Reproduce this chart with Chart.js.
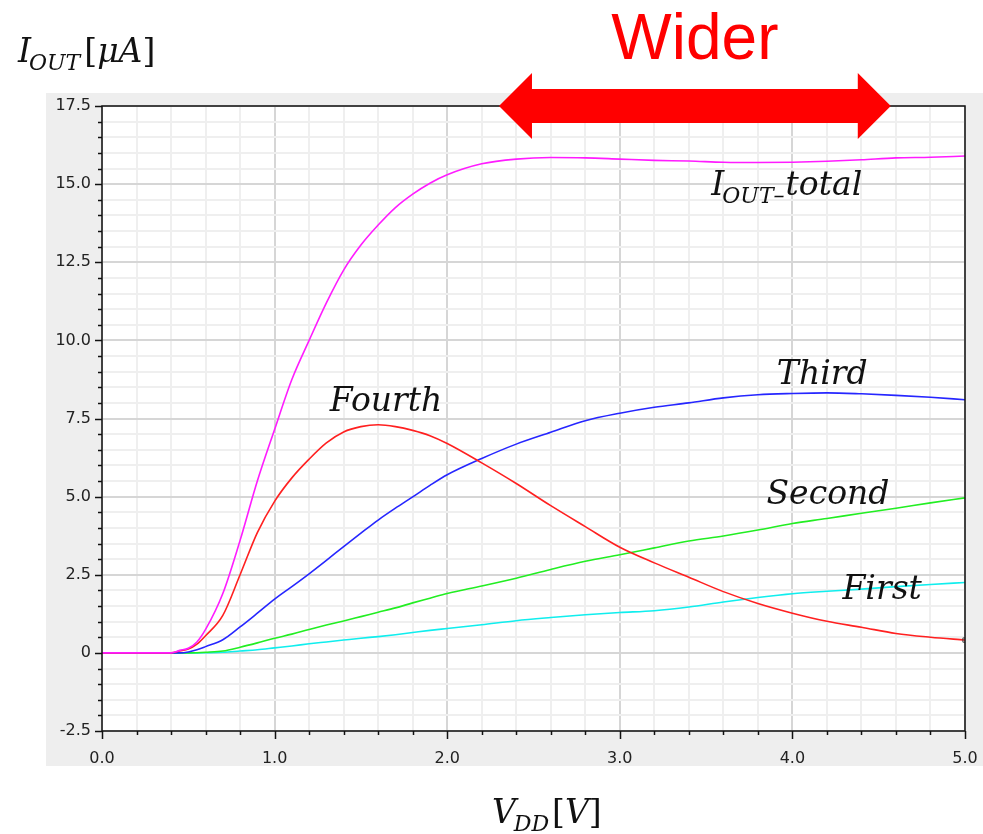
<!DOCTYPE html>
<html>
<head>
<meta charset="utf-8">
<script src="https://cdn.jsdelivr.net/npm/chart.js@4.4.1/dist/chart.umd.min.js"></script>
<style>
  html, body { margin: 0; padding: 0; background: #fff; }
  #wrap { width: 983px; height: 834px; }
</style>
</head>
<body>
<div id="wrap"><canvas id="myChart" width="983" height="834"></canvas></div>
<script>
// supply voltage sweep (V)
var vdd = [0, 0.1, 0.2, 0.3, 0.4, 0.45, 0.5, 0.55,
	0.6, 0.7, 0.8, 0.9, 1.0, 1.1, 1.2, 1.3, 1.4, 1.5, 1.6, 1.7, 1.8, 1.9, 2.0,
	2.2, 2.4, 2.6, 2.8, 3.0, 3.2, 3.4, 3.6, 3.8, 4.0, 4.2, 4.4, 4.6, 4.8, 5.0];

// output currents (uA)
var iTotal = [0, 0, 0, 0, 0, 0.08, 0.15, 0.35,
	0.75, 1.9, 3.6, 5.5, 7.15, 8.75, 10.0, 11.2, 12.25, 13.05, 13.69, 14.25, 14.68, 15.03, 15.3,
	15.65, 15.8, 15.85, 15.84, 15.8, 15.76, 15.74, 15.7, 15.69, 15.7, 15.73, 15.78, 15.84, 15.86, 15.9];
var iFourth = [0, 0, 0, 0, 0, 0.06, 0.12, 0.28,
	0.55, 1.2, 2.5, 3.85, 4.85, 5.6, 6.2, 6.72, 7.07, 7.24, 7.3, 7.24, 7.12, 6.95, 6.7,
	6.08, 5.42, 4.71, 4.04, 3.38, 2.88, 2.42, 1.96, 1.58, 1.27, 1.01, 0.82, 0.62, 0.5, 0.41];
var iThird = [0, 0, 0, 0, 0, 0, 0.03, 0.1,
	0.2, 0.42, 0.83, 1.27, 1.72, 2.12, 2.53, 2.96, 3.4, 3.83, 4.25, 4.63, 4.99, 5.36, 5.7,
	6.22, 6.68, 7.06, 7.43, 7.67, 7.86, 8.0, 8.16, 8.26, 8.3, 8.32, 8.29, 8.24, 8.18, 8.1];
var iSecond = [0, 0, 0, 0, 0, 0, 0, 0.005,
	0.02, 0.06, 0.18, 0.32, 0.47, 0.6, 0.75, 0.89, 1.02, 1.16, 1.3, 1.44, 1.6, 1.75, 1.9,
	2.14, 2.39, 2.67, 2.93, 3.14, 3.36, 3.58, 3.74, 3.93, 4.14, 4.3, 4.47, 4.63, 4.8, 4.96];
var iFirst = [0, 0, 0, 0, 0, 0, 0, 0,
	0.005, 0.02, 0.06, 0.1, 0.16, 0.22, 0.29, 0.35, 0.41, 0.47, 0.52, 0.58, 0.65, 0.72, 0.78,
	0.9, 1.03, 1.13, 1.22, 1.29, 1.35, 1.47, 1.63, 1.77, 1.89, 1.97, 2.04, 2.12, 2.19, 2.25];

var seriesNames = ['IOUT_total', 'Fourth', 'Third', 'Second', 'First'];
var seriesColors = ['#ff1cff', '#ff2020', '#2626ff', '#22ee22', '#10eeee'];

// axis ranges and steps
var xRange = [0, 5.0];
var yRange = [-2.5, 17.5];
var xStep = 0.2, xLabelStep = 1.0;
var yStep = 0.5, yLabelStep = 2.5;

function pts(ys) {
	return vdd.map(function (v, i) { return { x: v, y: ys[i] }; });
}

function isMultiple(v, step) {
	var r = v / step;
	return Math.abs(r - Math.round(r)) < 1e-6;
}

var serif = '"DejaVu Serif", "Liberation Serif", serif';

// draw a run of text pieces (normal / subscript / upright)
function drawRuns(ctx, x, y, runs) {
	runs.forEach(function (r) {
		ctx.font = r.font;
		ctx.fillText(r.text, x, y + (r.dy || 0));
		x += ctx.measureText(r.text).width + (r.gap || 0);
	});
}

var big = 'italic 33px ' + serif;
var sub = 'italic 22px ' + serif;
var upright = '33px ' + serif;

var frame = {
	id: 'frame',
	beforeDraw: function (chart) {
		var c = chart.ctx, a = chart.chartArea;
		c.save();
		c.fillStyle = '#ffffff';
		c.fillRect(0, 0, chart.width, chart.height);
		c.fillStyle = '#eeeeee';
		c.fillRect(46, 93, chart.width - 46, 673);
		c.fillStyle = '#ffffff';
		c.fillRect(a.left, a.top, a.right - a.left, a.bottom - a.top);
		c.restore();
	},
	afterDraw: function (chart) {
		var c = chart.ctx, a = chart.chartArea;
		var xs = chart.scales.x, ys = chart.scales.y;
		c.save();

		// plot frame
		c.strokeStyle = '#111';
		c.lineWidth = 1.5;
		c.strokeRect(a.left, a.top, a.right - a.left, a.bottom - a.top);

		// tick marks, long for labelled ticks
		c.beginPath();
		ys.ticks.forEach(function (t) {
			var y = Math.round(ys.getPixelForValue(t.value)) + 0.5;
			var len = isMultiple(t.value, yLabelStep) ? 7 : 4;
			c.moveTo(a.left - len, y);
			c.lineTo(a.left, y);
		});
		xs.ticks.forEach(function (t) {
			var x = Math.round(xs.getPixelForValue(t.value)) + 0.5;
			var len = isMultiple(t.value, xLabelStep) ? 8 : 4;
			c.moveTo(x, a.bottom);
			c.lineTo(x, a.bottom + len);
		});
		c.stroke();

		c.fillStyle = '#111';
		c.textBaseline = 'alphabetic';
		c.textAlign = 'left';

		// axis titles
		drawRuns(c, 18, 62, [
			{ text: 'I', font: big, gap: -2 },
			{ text: 'OUT', font: sub, dy: 8, gap: 4 },
			{ text: '[', font: upright },
			{ text: '\u03bcA', font: big },
			{ text: ']', font: upright }
		]);
		drawRuns(c, 492, 823, [
			{ text: 'V', font: big, gap: -2 },
			{ text: 'DD', font: sub, dy: 8, gap: 3 },
			{ text: '[', font: upright },
			{ text: 'V', font: big },
			{ text: ']', font: upright }
		]);

		// curve names
		c.font = big;
		c.fillText('Fourth', xs.getPixelForValue(1.32), ys.getPixelForValue(7.74));
		c.fillText('Third', xs.getPixelForValue(3.91), ys.getPixelForValue(8.6));
		c.fillText('Second', xs.getPixelForValue(3.85), ys.getPixelForValue(4.76));
		c.fillText('First', xs.getPixelForValue(4.29), ys.getPixelForValue(1.74));
		drawRuns(c, xs.getPixelForValue(3.53), ys.getPixelForValue(14.65), [
			{ text: 'I', font: big, gap: -2 },
			{ text: 'OUT\u2013', font: sub, dy: 8, gap: 1 },
			{ text: 'total', font: big }
		]);

		// "Wider" range arrow
		var xl = xs.getPixelForValue(2.3), xr = xs.getPixelForValue(4.57);
		var yc = a.top, head = 33, half = 17, wing = 33;
		c.fillStyle = '#ff0000';
		c.beginPath();
		c.moveTo(xl, yc);
		c.lineTo(xl + head, yc - wing);
		c.lineTo(xl + head, yc - half);
		c.lineTo(xr - head, yc - half);
		c.lineTo(xr - head, yc - wing);
		c.lineTo(xr, yc);
		c.lineTo(xr - head, yc + wing);
		c.lineTo(xr - head, yc + half);
		c.lineTo(xl + head, yc + half);
		c.lineTo(xl + head, yc + wing);
		c.closePath();
		c.fill();
		c.font = '64px "Liberation Sans", Arial, sans-serif';
		c.textAlign = 'center';
		c.fillText('Wider', (xl + xr) / 2, 59);
		c.restore();
	}
};

var lastIdx = vdd.length - 1;
var allSeries = [iTotal, iFourth, iThird, iSecond, iFirst];

var datasets = allSeries.map(function (s, k) {
	return {
		label: seriesNames[k],
		data: pts(s),
		borderColor: seriesColors[k],
		borderWidth: 1.6,
		fill: false,
		cubicInterpolationMode: 'monotone',
		pointRadius: 0
	};
});
// small end marker on the Fourth trace
datasets[1].pointStyle = 'rect';
datasets[1].pointRadius = function (ctx) { return ctx.dataIndex === lastIdx ? 3 : 0; };
datasets[1].pointBorderColor = '#444';
datasets[1].pointBackgroundColor = 'rgba(0,0,0,0)';
datasets[1].pointBorderWidth = 1;

var gridColor = function (step) {
	return function (ctx) {
		if (!ctx.tick) return '#eeeeee';
		return isMultiple(ctx.tick.value, step) ? '#d6d6d6' : '#efefef';
	};
};

var tickFont = { family: '"DejaVu Sans", Verdana, sans-serif', size: 16 };

var myChart = document.getElementById('myChart').getContext('2d');

var chart = new Chart(myChart, {
	type: 'line',
	data: { datasets: datasets },
	plugins: [frame],
	options: {
		responsive: false,
		animation: false,
		layout: { padding: { top: 106, right: 18, left: 0, bottom: 0 } },
		plugins: {
			legend: { display: false },
			tooltip: { enabled: false }
		},
		scales: {
			x: {
				type: 'linear',
				min: xRange[0],
				max: xRange[1],
				afterFit: function (s) {
					s.height = 103;
					s.paddingLeft = 0;
					s.paddingRight = 0;
				},
				border: { display: false },
				grid: { drawTicks: false, lineWidth: 2, color: gridColor(xLabelStep) },
				ticks: {
					stepSize: xStep,
					autoSkip: false,
					maxRotation: 0,
					padding: 18,
					color: '#222',
					font: tickFont,
					callback: function (v) {
						return isMultiple(v, xLabelStep) ? v.toFixed(1) : '';
					}
				}
			},
			y: {
				min: yRange[0],
				max: yRange[1],
				afterFit: function (s) {
					s.width = 102;
					s.paddingTop = 0;
					s.paddingBottom = 0;
				},
				border: { display: false },
				grid: { drawTicks: false, lineWidth: 2, color: gridColor(yLabelStep) },
				ticks: {
					stepSize: yStep,
					autoSkip: false,
					padding: 11,
					color: '#222',
					font: tickFont,
					callback: function (v) {
						if (!isMultiple(v, yLabelStep)) return '';
						return Math.abs(v) < 1e-9 ? '0' : v.toFixed(1);
					}
				}
			}
		}
	}
});
</script>
</body>
</html>
